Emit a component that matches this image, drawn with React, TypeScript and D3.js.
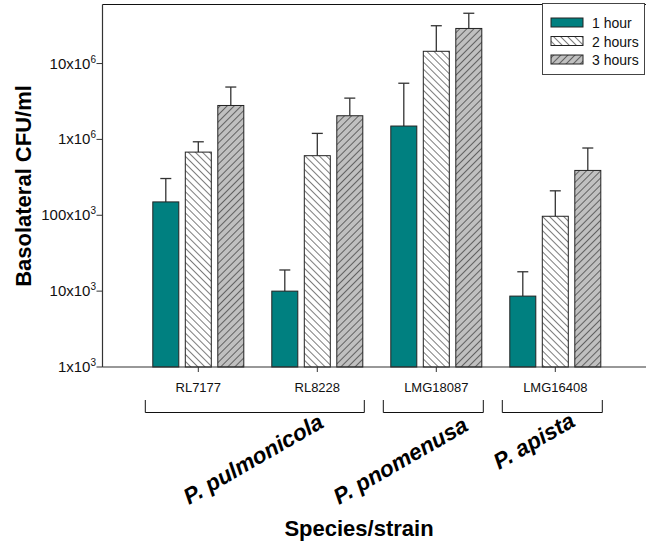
import React from "react";
import * as d3 from "d3";

// Strains on the x axis, species that group them, and exposure times
const strains = ["RL7177", "RL8228", "LMG18087", "LMG16408"];
const seriesNames = ["1 hour", "2 hours", "3 hours"];

// Mean basolateral CFU/ml per strain
const oneHour = [1.5e5, 1.0e4, 1.5e6, 8.6e3];
const twoHours = [6.8e5, 6.1e5, 1.45e7, 9.7e4];
const threeHours = [2.8e6, 2.05e6, 2.9e7, 3.9e5];

// Upper error (SD) per strain
const oneHourErr = [1.55e5, 9.0e3, 4.0e6, 9.4e3];
const twoHoursErr = [2.5e5, 5.9e5, 1.7e7, 1.13e5];
const threeHoursErr = [2.1e6, 1.45e6, 1.7e7, 3.8e5];

// y-axis ticks
const yTicks = [1e3, 1e4, 1e5, 1e6, 1e7];
const yTickMantissa = ["1", "10", "100", "1", "10"];
const yTickExponent = ["3", "3", "3", "6", "6"];

// Species groupings
const speciesNames = ["P. pulmonicola", "P. pnomenusa", "P. apista"];
const speciesFirst = ["RL7177", "LMG18087", "LMG16408"];
const speciesLast = ["RL8228", "LMG18087", "LMG16408"];

const W = 646;
const H = 546;
const FONT = "'Liberation Sans', Arial, Helvetica, sans-serif";

const plot = { left: 102.5, right: 660, top: 4.5, bottom: 367 };
const speciesLabelPos = [
  { x: 189, y: 505 },
  { x: 339, y: 505 },
  { x: 499, y: 470 },
];

export default function App() {
  const values = [oneHour, twoHours, threeHours];
  const errs = [oneHourErr, twoHoursErr, threeHoursErr];
  const fills = ["#008080", "url(#hatchBack)", "url(#hatchFwd)"];

  const y = d3.scaleLog().domain([1e3, 6e7]).range([plot.bottom, plot.top]);
  const x = d3.scalePoint<string>().domain(strains).range([198.3, 555.3]);
  const xs = d3
    .scaleBand<string>()
    .domain(seriesNames)
    .range([-45.5, 45.5])
    .paddingInner(0.2);
  const bw = xs.bandwidth();

  return (
    <svg
      width={W}
      height={H}
      style={{ position: "absolute", left: 0, top: 0, display: "block", background: "#fff" }}
      fontFamily={FONT}
    >
      <defs>
        <pattern id="hatchBack" patternUnits="userSpaceOnUse" width={5} height={5} patternTransform="rotate(-45)">
          <rect width={5} height={5} fill="#fff" />
          <line x1={0} y1={0} x2={0} y2={5} stroke="#111" strokeWidth={1.1} />
        </pattern>
        <pattern id="hatchFwd" patternUnits="userSpaceOnUse" width={5} height={5} patternTransform="rotate(45)">
          <rect width={5} height={5} fill="#c0c0c0" />
          <line x1={0} y1={0} x2={0} y2={5} stroke="#111" strokeWidth={1.1} />
        </pattern>
      </defs>

      {/* frame */}
      <line x1={plot.left} x2={plot.right} y1={plot.top} y2={plot.top} stroke="#111" strokeWidth={1} />

      {/* bars and error bars */}
      {seriesNames.map((s, si) =>
        strains.map((st, i) => {
          const cx = (x(st) as number) + (xs(s) as number);
          const v = values[si][i];
          const top = y(v);
          const errTop = y(v + errs[si][i]);
          const mid = cx + bw / 2;
          return (
            <g key={s + st}>
              <line x1={mid} x2={mid} y1={top} y2={errTop} stroke="#333" strokeWidth={1.3} />
              <line x1={mid - 5.5} x2={mid + 5.5} y1={errTop} y2={errTop} stroke="#333" strokeWidth={1.3} />
              <rect
                x={cx}
                y={top}
                width={bw}
                height={plot.bottom - top}
                fill={fills[si]}
                stroke="#222"
                strokeWidth={1}
              />
            </g>
          );
        })
      )}

      {/* axes */}
      <line x1={plot.left} x2={plot.left} y1={plot.top} y2={plot.bottom} stroke="#333" strokeWidth={1.2} />
      <line x1={plot.left} x2={plot.right} y1={plot.bottom} y2={plot.bottom} stroke="#333" strokeWidth={1.2} />

      {yTicks.map((t, i) => (
        <g key={t}>
          <line x1={plot.left - 6} x2={plot.left} y1={y(t)} y2={y(t)} stroke="#333" strokeWidth={1} />
          <text x={96} y={y(t) + 5} textAnchor="end" fontSize={15} fill="#111">
            {yTickMantissa[i]}x10
            <tspan fontSize={10} dy={-6}>
              {yTickExponent[i]}
            </tspan>
          </text>
        </g>
      ))}

      {strains.map((st) => (
        <g key={st}>
          <line x1={x(st)} x2={x(st)} y1={plot.bottom} y2={plot.bottom + 5} stroke="#333" strokeWidth={1} />
          <text x={x(st)} y={391.5} textAnchor="middle" fontSize={13} fill="#111">
            {st}
          </text>
        </g>
      ))}

      {/* species brackets */}
      {speciesNames.map((sp, i) => {
        const l = (x(speciesFirst[i]) as number) - 53;
        const r = (x(speciesLast[i]) as number) + 47;
        const p = speciesLabelPos[i];
        return (
          <g key={sp}>
            <path
              d={`M${l},400V412.5H${r}V400`}
              fill="none"
              stroke="#111"
              strokeWidth={1}
            />
            <text
              x={p.x}
              y={p.y}
              transform={`rotate(-30 ${p.x} ${p.y})`}
              fontSize={22.5}
              fontWeight="bold"
              fontStyle="italic"
              fill="#000"
            >
              {sp}
            </text>
          </g>
        );
      })}

      {/* axis titles */}
      <text x={359} y={536} textAnchor="middle" fontSize={22} fontWeight="bold" fill="#000">
        Species/strain
      </text>
      <text
        x={31}
        y={186}
        transform="rotate(-90 31 186)"
        textAnchor="middle"
        fontSize={22}
        fontWeight="bold"
        fill="#000"
      >
        Basolateral CFU/ml
      </text>

      {/* legend */}
      <rect x={542.5} y={3.5} width={102} height={71} fill="#fff" stroke="#444" strokeWidth={1} />
      {seriesNames.map((s, i) => (
        <g key={s}>
          <rect x={551} y={18 + i * 18.5} width={32} height={9} fill={fills[i]} stroke="#222" strokeWidth={1} />
          <text x={592} y={28 + i * 18.5} fontSize={14} fill="#111">
            {s}
          </text>
        </g>
      ))}
    </svg>
  );
}
